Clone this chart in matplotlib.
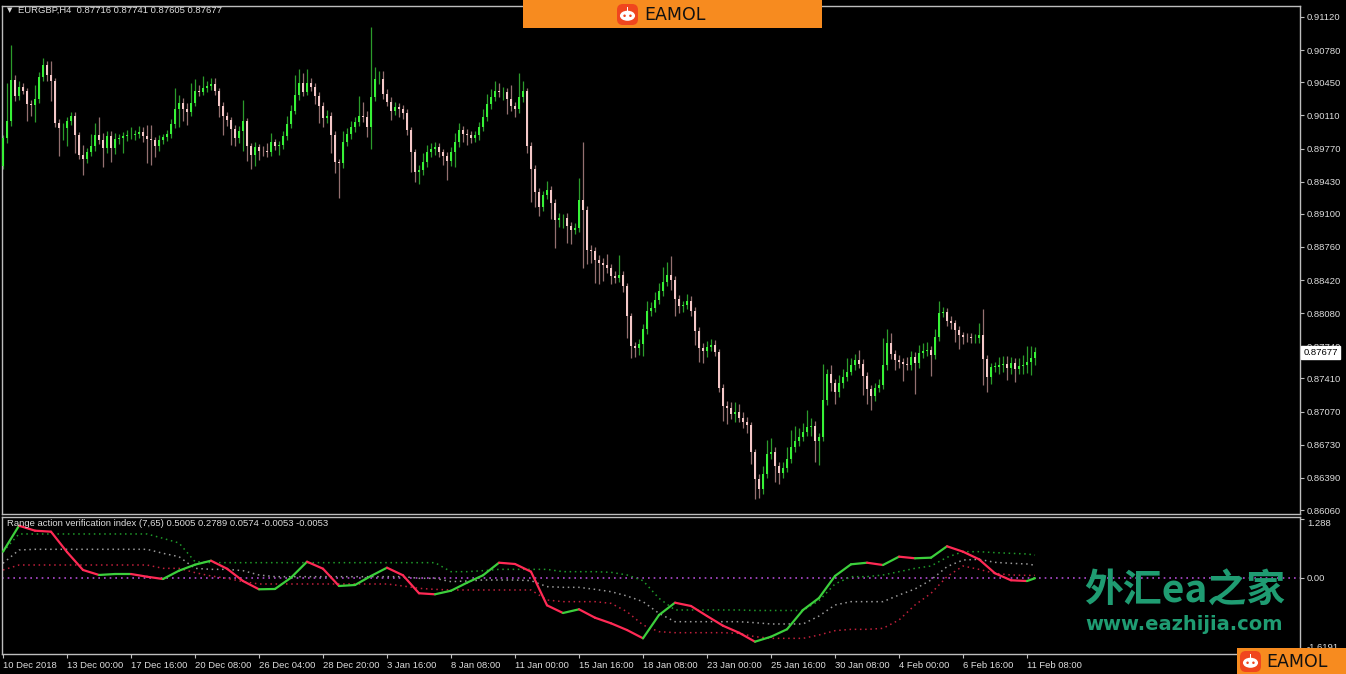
import numpy as np
import matplotlib
matplotlib.use("Agg")
import matplotlib.pyplot as plt
from matplotlib.patches import Rectangle, FancyBboxPatch, Ellipse
from matplotlib.transforms import blended_transform_factory

# ---------------- data ----------------
symbol = "EURGBP,H4"
last_ohlc = ["0.87716", "0.87741", "0.87605", "0.87677"]
last_price = 0.87677
first_open = 0.8959

close = [
    0.89877, 0.90048, 0.90475, 0.90304, 0.90406, 0.90365, 0.90229, 0.90219, 0.90277, 0.90509,
    0.90628, 0.90526, 0.90458, 0.90031, 0.89980, 0.89980, 0.90048, 0.90099, 0.89911, 0.89706,
    0.89662, 0.89730, 0.89799, 0.89911, 0.89860, 0.89775, 0.89901, 0.89775, 0.89867, 0.89877,
    0.89894, 0.89905, 0.89911, 0.89922, 0.89939, 0.89894, 0.89870, 0.89853, 0.89799, 0.89860, 0.89884,
    0.89918, 0.90024, 0.90174, 0.90242, 0.90174, 0.90140, 0.90242, 0.90365, 0.90355, 0.90390,
    0.90413, 0.90434, 0.90365, 0.90208, 0.90106, 0.90065, 0.89970, 0.89877, 0.89945, 0.90048,
    0.89799, 0.89706, 0.89781, 0.89747, 0.89742, 0.89737, 0.89832, 0.89799, 0.89806, 0.89901, 0.90024,
    0.90160, 0.90321, 0.90441, 0.90355, 0.90441, 0.90406, 0.90311, 0.90208, 0.90082, 0.90106,
    0.89911, 0.89628, 0.89621, 0.89832, 0.89922, 0.89990, 0.90040, 0.90106, 0.90093, 0.89990, 0.90297,
    0.90482, 0.90482, 0.90331, 0.90252, 0.90160, 0.90195, 0.90174, 0.90134, 0.89963, 0.89730,
    0.89525, 0.89546, 0.89628, 0.89730, 0.89765, 0.89785, 0.89730, 0.89696, 0.89645, 0.89730,
    0.89832, 0.89955, 0.89922, 0.89911, 0.89877, 0.89904, 0.89990, 0.90093, 0.90229, 0.90297, 0.90365,
    0.90345, 0.90349, 0.90277, 0.90208, 0.90174, 0.90297, 0.90365,
    0.89799, 0.89560, 0.89320, 0.89174,
    0.89290, 0.89341, 0.89212, 0.89041, 0.89058,
    0.89058, 0.88972, 0.88938, 0.88956, 0.89238, 0.89136, 0.88733, 0.88716, 0.88624, 0.88597,
    0.88570, 0.88546, 0.88460, 0.88443, 0.88477, 0.88357, 0.88050, 0.87743, 0.87726, 0.87760,
    0.87914, 0.88101, 0.88136, 0.88214, 0.88306, 0.88398, 0.88477, 0.88419, 0.88221, 0.88153,
    0.88160, 0.88204, 0.88101, 0.87897, 0.87726, 0.87692, 0.87737, 0.87750, 0.87681, 0.87317,
    0.87128, 0.87112, 0.87043, 0.87067, 0.87009, 0.86964, 0.86931, 0.86651, 0.86377, 0.86275,
    0.86429, 0.86634, 0.86657, 0.86514, 0.86439, 0.86490, 0.86582, 0.86702, 0.86770, 0.86805,
    0.86856, 0.86917, 0.86923, 0.86770, 0.86805, 0.87190, 0.87453, 0.87361, 0.87266, 0.87361,
    0.87429, 0.87481, 0.87545, 0.87600, 0.87555, 0.87436, 0.87299, 0.87231, 0.87317, 0.87340,
    0.87545, 0.87778, 0.87658, 0.87600, 0.87579, 0.87555, 0.87545, 0.87634, 0.87566, 0.87668,
    0.87689, 0.87702, 0.87648, 0.87839, 0.88078, 0.88091, 0.87999, 0.87975, 0.87907, 0.87852,
    0.87839, 0.87832, 0.87825, 0.87825, 0.87852, 0.87607, 0.87429, 0.87532, 0.87532, 0.87552,
    0.87563, 0.87518, 0.87566, 0.87511, 0.87535, 0.87548, 0.87583, 0.87620, 0.87677,
]

upper_wick_pips = [
    3, 39, 36, 5, 6, 4, 3, 4, 15, 5,
    7, 4, 14, 4, 4, 5, 5, 5, 5, 3,
    10, 5, 12, 12, 18, 7, 5, 5, 6, 4,
    5, 5, 8, 4, 6, 5, 12, 14, 4, 5, 4,
    4, 5, 22, 8, 5, 6, 20, 12, 6, 12,
    5, 6, 6, 3, 4, 4, 3, 4, 6, 22,
    4, 3, 6, 4, 5, 8, 10, 4, 4, 5, 8,
    6, 20, 15, 10, 14, 5, 4, 4, 4, 6,
    4, 4, 3, 12, 6, 6, 5, 20, 14, 6, 72,
    12, 8, 8, 5, 5, 5, 4, 4, 4, 3,
    4, 5, 10, 8, 6, 5, 4, 4, 4, 6,
    10, 8, 5, 5, 4, 5, 5, 8, 10, 8, 10,
    8, 5, 4, 15, 4, 25, 10,
    3, 4, 4, 4,
    4, 10, 4, 4, 5,
    4, 5, 4, 5, 23, 60, 4, 5, 4, 5,
    5, 12, 4, 5, 20, 4, 3, 3, 4, 5,
    5, 10, 6, 8, 8, 16, 13, 19, 4, 5,
    5, 7, 5, 4, 4, 5, 6, 6, 5, 3,
    4, 5, 6, 10, 8, 6, 5, 3, 3, 5,
    8, 14, 14, 5, 4, 6, 12, 18, 15, 10,
    10, 17, 8, 5, 5, 37, 5, 10, 4, 8,
    8, 14, 8, 6, 10, 5, 4, 4, 5, 6,
    28, 14, 10, 4, 5, 4, 8, 6, 5, 9,
    8, 8, 4, 8, 13, 5, 4, 5, 4, 4,
    4, 4, 4, 4, 13, 27, 4, 4, 5, 8,
    8, 8, 6, 5, 8, 10, 16, 12, 6,
]

lower_wick_pips = [
    3, 5, 5, 5, 4, 4, 18, 12, 18, 4,
    5, 6, 20, 4, 29, 12, 18, 4, 19, 4,
    16, 4, 4, 5, 4, 19, 5, 14, 6, 5,
    15, 5, 4, 5, 4, 6, 25, 25, 12, 5, 4,
    4, 4, 4, 18, 12, 13, 4, 4, 5, 4,
    4, 4, 5, 11, 20, 6, 16, 8, 5, 20,
    16, 15, 12, 9, 5, 5, 4, 4, 10, 4, 4,
    4, 4, 5, 5, 4, 5, 8, 18, 9, 5,
    19, 11, 36, 5, 4, 5, 5, 4, 5, 10, 22,
    4, 5, 5, 5, 10, 5, 8, 6, 5, 20,
    10, 12, 5, 5, 5, 6, 5, 10, 20, 5,
    15, 5, 8, 10, 5, 4, 5, 4, 4, 5, 4,
    5, 8, 15, 5, 8, 4, 5,
    8, 34, 15, 10,
    5, 4, 17, 29, 8,
    10, 17, 15, 5, 4, 59, 15, 12, 23, 22,
    16, 5, 8, 5, 4, 6, 22, 12, 10, 8,
    12, 5, 5, 4, 4, 5, 4, 10, 17, 7,
    6, 4, 5, 14, 15, 12, 6, 4, 4, 5,
    15, 17, 5, 8, 5, 6, 8, 12, 20, 9,
    5, 4, 5, 17, 11, 5, 4, 4, 5, 5,
    4, 4, 10, 22, 25, 4, 5, 8, 12, 5,
    5, 4, 4, 5, 4, 20, 15, 14, 5, 5,
    4, 5, 5, 10, 6, 17, 5, 5, 32, 5,
    5, 5, 21, 4, 4, 4, 5, 6, 12, 14,
    8, 5, 5, 5, 5, 26, 16, 8, 6, 8,
    8, 12, 6, 14, 6, 8, 8, 14, 7,
]

price_ticks = [0.91120, 0.90780, 0.90450, 0.90110, 0.89770, 0.89430, 0.89100, 0.88760,
               0.88420, 0.88080, 0.87740, 0.87410, 0.87070, 0.86730, 0.86390, 0.86060]

time_labels = ["10 Dec 2018", "13 Dec 00:00", "17 Dec 16:00", "20 Dec 08:00", "26 Dec 04:00",
               "28 Dec 20:00", "3 Jan 16:00", "8 Jan 08:00", "11 Jan 00:00", "15 Jan 16:00",
               "18 Jan 08:00", "23 Jan 00:00", "25 Jan 16:00", "30 Jan 08:00", "4 Feb 00:00",
               "6 Feb 16:00", "11 Feb 08:00"]
bars_per_label = 16

# oscillator, sampled every 4 bars (plus last bar)
osc_bars = list(range(0, 257, 4)) + [258]
osc_main = [
    0.575, 1.143, 1.034, 1.012, 0.568, 0.175, 0.066, 0.087,
    0.087, 0.028, -0.022, 0.160, 0.291, 0.378, 0.203, -0.066,
    -0.247, -0.240, 0.007, 0.356, 0.203, -0.175, -0.153, 0.044,
    0.225, 0.059, -0.334, -0.356, -0.278, -0.103, 0.059, 0.334,
    0.306, 0.138, -0.597, -0.765, -0.684, -0.868, -0.990, -1.137,
    -1.318, -0.809, -0.540, -0.612, -0.831, -1.043, -1.196, -1.392,
    -1.283, -1.121, -0.699, -0.437, 0.044, 0.299, 0.334, 0.284,
    0.466, 0.431, 0.444, 0.693, 0.575, 0.409, 0.103, -0.050,
    -0.066, -0.0053,
]
osc_upper = [
    0.575, 0.962, 0.962, 0.962, 0.962, 0.962, 0.962, 0.962,
    0.962, 0.962, 0.867, 0.765, 0.357, 0.335, 0.335, 0.335,
    0.335, 0.335, 0.335, 0.335, 0.335, 0.335, 0.335, 0.335,
    0.335, 0.335, 0.335, 0.335, 0.138, 0.138, 0.160, 0.189,
    0.189, 0.189, 0.189, 0.138, 0.138, 0.138, 0.124, 0.066,
    -0.058, -0.444, -0.699, -0.699, -0.699, -0.699, -0.699, -0.710,
    -0.710, -0.710, -0.710, -0.495, -0.131, 0.029, 0.029, 0.066,
    0.138, 0.211, 0.262, 0.452, 0.575, 0.575, 0.554, 0.539,
    0.525, 0.5005,
]
osc_mid = [
    0.321, 0.612, 0.627, 0.627, 0.627, 0.627, 0.627, 0.627,
    0.627, 0.627, 0.539, 0.466, 0.211, 0.189, 0.189, 0.160,
    0.066, 0.029, 0.029, 0.029, 0.029, 0.029, 0.029, 0.029,
    0.029, 0.029, -0.007, -0.007, -0.080, -0.066, -0.044, -0.044,
    -0.044, -0.058, -0.189, -0.204, -0.204, -0.248, -0.299, -0.393,
    -0.517, -0.773, -0.955, -0.955, -0.955, -0.955, -0.955, -0.977,
    -1.005, -1.005, -1.005, -0.831, -0.590, -0.517, -0.517, -0.517,
    -0.372, -0.240, -0.044, 0.248, 0.393, 0.408, 0.342, 0.321,
    0.306, 0.2789,
]
osc_lower = [
    0.175, 0.284, 0.284, 0.284, 0.284, 0.284, 0.284, 0.284,
    0.284, 0.284, 0.211, 0.211, 0.117, 0.044, -0.007, -0.080,
    -0.131, -0.131, -0.131, -0.131, -0.131, -0.131, -0.131, -0.131,
    -0.131, -0.175, -0.226, -0.248, -0.262, -0.262, -0.262, -0.262,
    -0.262, -0.262, -0.481, -0.517, -0.517, -0.517, -0.554, -0.736,
    -1.027, -1.173, -1.195, -1.195, -1.195, -1.195, -1.210, -1.282,
    -1.319, -1.319, -1.319, -1.246, -1.151, -1.122, -1.122, -1.100,
    -0.918, -0.590, -0.335, 0.029, 0.262, 0.189, 0.102, 0.066,
    0.0574, 0.0574,
]
osc_name = "Range action verification index (7,65)"
osc_last = ["0.5005", "0.2789", "0.0574", "-0.0053", "-0.0053"]
osc_scale_max, osc_scale_min = 1.288, -1.6191

# ---------------- figure ----------------
W, H, DPI = 1346, 674, 100
fig = plt.figure(figsize=(W / DPI, H / DPI), dpi=DPI, facecolor="black")
FONT = "Liberation Sans"
FRAME = "#bdbdbd"
TXT = "#dcdcdc"


def rect(x0, y0, x1, y1):
    return [x0 / W, 1 - y1 / H, (x1 - x0) / W, (y1 - y0) / H]


ax = fig.add_axes(rect(2, 6, 1300, 514))
ax2 = fig.add_axes(rect(2, 517, 1300, 654))
for a in (ax, ax2):
    a.set_facecolor("black")
    for s in a.spines.values():
        s.set_color(FRAME)
        s.set_linewidth(1.0)

# ---- candles ----
n = min(len(close), len(upper_wick_pips), len(lower_wick_pips))
c = np.array(close[:n])
o = np.r_[first_open, c[:-1]]
idx = np.arange(n)
up = c >= o
bhi = np.maximum(o, c)
blo = np.minimum(o, c)
hi = bhi + np.array(upper_wick_pips[:n]) * 1e-4
lo = blo - np.array(lower_wick_pips[:n]) * 1e-4
ax.vlines(idx[up], lo[up], hi[up], color="#2b9b2b", lw=0.9, zorder=2)
ax.vlines(idx[~up], lo[~up], hi[~up], color="#947070", lw=0.9, zorder=2)
h = np.maximum(bhi - blo, 0.00003)
ax.bar(idx[up], h[up], bottom=blo[up], width=0.72, color="#37f237", lw=0, zorder=3)
ax.bar(idx[~up], h[~up], bottom=blo[~up], width=0.72, color="#f4c8c8", lw=0, zorder=3)

xmin, xmax = -0.25, 324.25
ax.set_xlim(xmin, xmax)
ax.set_ylim(0.86019, 0.912327)
ax.set_xticks([])
ax.yaxis.tick_right()
ax.set_yticks(price_ticks)
ax.set_yticklabels([f"{p:.5f}" for p in price_ticks])
ax.tick_params(axis="y", direction="out", length=3, width=0.8, color=FRAME,
               labelcolor=TXT, labelsize=6.8, pad=2)
for t in ax.get_yticklabels():
    t.set_fontfamily(FONT)

# current price box
btr = blended_transform_factory(ax.transAxes, ax.transData)
ax.text(1.0025, last_price, f"{last_price:.5f}", transform=btr, ha="left", va="center",
        fontsize=6.8, family=FONT, color="black", zorder=10, clip_on=False,
        bbox=dict(boxstyle="square,pad=0.2", fc="white", ec="white"))

# header
fig.text(7 / W, 1 - 10 / H, "\u25bc", fontsize=5, color=TXT, va="center", ha="left")
fig.text(18 / W, 1 - 10 / H, symbol + "  " + " ".join(last_ohlc), fontsize=6.8,
         family=FONT, color=TXT, va="center", ha="left")

# ---- oscillator ----
ob = np.array(osc_bars)
om = np.array(osc_main)
dotted = (0, (1.0, 2.4))
ax2.axhline(0, color="#b04ad0", lw=1.2, ls=dotted, zorder=1)
ax2.plot(ob, osc_upper, color="#1f9a2a", lw=1.1, ls=dotted, zorder=2)
ax2.plot(ob, osc_mid, color="#9a9a9a", lw=1.1, ls=dotted, zorder=2)
ax2.plot(ob, osc_lower, color="#c0203c", lw=1.1, ls=dotted, zorder=2)
for i in range(len(ob) - 1):
    col = "#3ccf3c" if om[i + 1] >= om[i] else "#ff2a55"
    ax2.plot(ob[i:i + 2], om[i:i + 2], color=col, lw=1.6, solid_capstyle="round", zorder=3)

ax2.set_xlim(xmin, xmax)
ax2.set_ylim(-1.661, 1.333)
ax2.yaxis.tick_right()
ax2.set_yticks([osc_scale_max, 0.0, osc_scale_min])
ax2.set_yticklabels([f"{osc_scale_max:g}", "0.00", f"{osc_scale_min:g}"])
ax2.tick_params(axis="y", direction="out", length=3, width=0.8, color=FRAME,
                labelcolor=TXT, labelsize=6.8, pad=2)
yl = ax2.get_yticklabels()
yl[0].set_va("top")
yl[2].set_va("bottom")
for t in yl:
    t.set_fontfamily(FONT)

tick_pos = [i * bars_per_label for i in range(len(time_labels))]
ax2.set_xticks(tick_pos)
ax2.set_xticklabels(time_labels)
ax2.tick_params(axis="x", direction="out", length=3, width=0.8, color=FRAME,
                labelcolor=TXT, labelsize=6.8, pad=2)
for t in ax2.get_xticklabels():
    t.set_ha("left")
    t.set_fontfamily(FONT)

fig.text(7 / W, 1 - 524 / H, osc_name + " " + " ".join(osc_last), fontsize=6.8,
         family=FONT, color=TXT, va="center", ha="left")

# ---------------- overlay: banners & watermark ----------------
ov = fig.add_axes([0, 0, 1, 1], zorder=20)
ov.set_xlim(0, W)
ov.set_ylim(H, 0)
ov.axis("off")
ov.patch.set_alpha(0)


def eamol(x0, y0, x1, y1, lx, ly, size, tx, fs):
    ov.add_patch(Rectangle((x0, y0), x1 - x0, y1 - y0, fc="#f78b1f", ec="none"))
    ov.add_patch(FancyBboxPatch((lx, ly), size, size,
                                boxstyle="round,pad=0,rounding_size=%g" % (size * 0.28),
                                fc="#f0461e", ec="none"))
    ov.add_patch(Ellipse((lx + size / 2, ly + size * 0.56), size * 0.72, size * 0.48, fc="white", ec="none"))
    ov.add_patch(Ellipse((lx + size * 0.36, ly + size * 0.56), size * 0.12, size * 0.12, fc="#f0461e", ec="none"))
    ov.add_patch(Ellipse((lx + size * 0.64, ly + size * 0.56), size * 0.12, size * 0.12, fc="#f0461e", ec="none"))
    ov.add_patch(Rectangle((lx + size * 0.46, ly + size * 0.12), size * 0.08, size * 0.22, fc="white", ec="none"))
    ov.text(tx, (y0 + y1) / 2 + 1, "EAMOL", fontsize=fs, color="#111111", family="DejaVu Sans",
            ha="left", va="center")


eamol(523, 0, 822, 28, 617, 4, 21, 644, 12.5)
eamol(1237, 648, 1346, 674, 1240, 651, 21, 1266, 12.5)

ov.text(1084, 591, "外汇ea之家", fontsize=28, color="#1f9c72", fontweight="bold",
        family=["Noto Sans CJK SC", "DejaVu Sans"], ha="left", va="center")
ov.text(1085, 624, "www.eazhijia.com", fontsize=14, color="#1f9c72", fontweight="bold",
        family="DejaVu Sans", ha="left", va="center")

fig.savefig("out.png", dpi=DPI, facecolor="black")
